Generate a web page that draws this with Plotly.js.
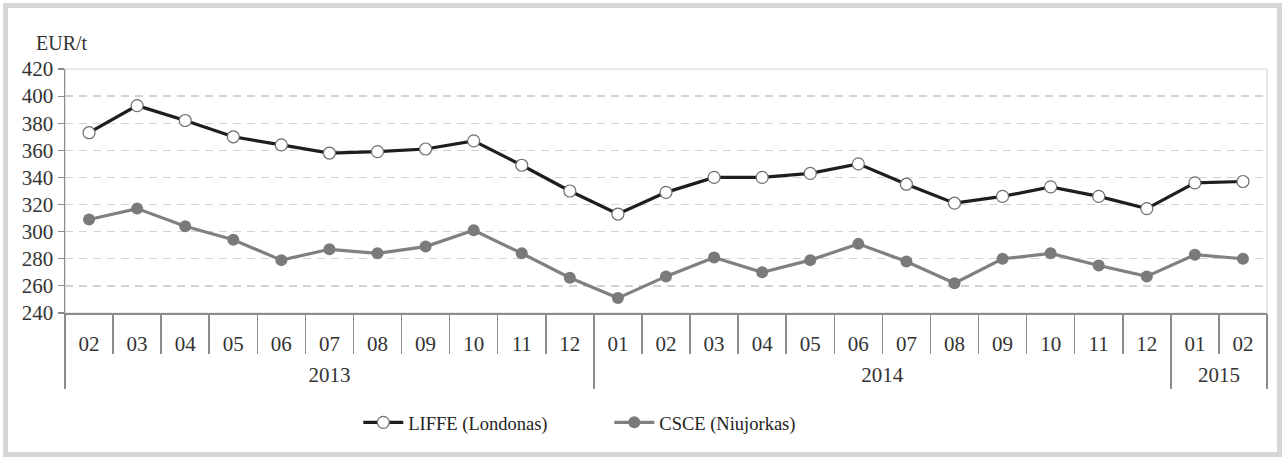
<!DOCTYPE html>
<html>
<head>
<meta charset="utf-8">
<script src="https://cdn.plot.ly/plotly-3.0.1.min.js"></script>
<style>
  body { margin: 0; background: #fff; }
  #wrap { position: relative; width: 1285px; height: 457px; }
  #plot { position: absolute; left: 0; top: 0; width: 1285px; height: 457px; }
  #frame { position: absolute; left: 3px; top: 3px; width: 1279px; height: 454px;
           border: 5px solid #d6d6d6; box-sizing: border-box; pointer-events: none; }
</style>
</head>
<body>
<div id="wrap">
  <div id="plot"></div>
  <div id="frame"></div>
</div>
<script>
// periods: year + month
var years = ['2013','2013','2013','2013','2013','2013','2013','2013','2013','2013','2013',
             '2014','2014','2014','2014','2014','2014','2014','2014','2014','2014','2014','2014',
             '2015','2015'];
var months = ['02','03','04','05','06','07','08','09','10','11','12',
              '01','02','03','04','05','06','07','08','09','10','11','12',
              '01','02'];
var yearLabels = ['2013', '2014', '2015'];

// EUR/t
var liffe = [373, 393, 382, 370, 364, 358, 359, 361, 367, 349, 330,
             313, 329, 340, 340, 343, 350, 335, 321, 326, 333, 326, 317,
             336, 337];
var csce = [309, 317, 304, 294, 279, 287, 284, 289, 301, 284, 266,
            251, 267, 281, 270, 279, 291, 278, 262, 280, 284, 275, 267,
            283, 280];

var serif = '"Liberation Serif", serif';

// unique category keys, shown with the month text only
var keys = months.map(function (m, i) { return years[i] + '-' + m; });
var n = keys.length;

// boundaries between months, and between years
var monthBounds = [];
for (var i = 0; i <= n; i++) monthBounds.push(i - 0.5);
var yearBounds = [-0.5];
var yearCenters = [];
var start = 0;
for (var i = 1; i <= n; i++) {
    if (i == n || years[i] !== years[i - 1]) {
        yearBounds.push(i - 0.5);
        yearCenters.push((start + i - 1) / 2);
        start = i;
    }
}

var trace1 = {
    x: keys,
    y: liffe,
    type: 'scatter',
    mode: 'lines+markers',
    name: 'LIFFE (Londonas)',
    line: { color: '#1e1e1e', width: 3.2 },
    marker: { symbol: 'circle', size: 12, color: '#ffffff', line: { color: '#6e6e6e', width: 1.2 } }
};
var trace2 = {
    x: keys,
    y: csce,
    type: 'scatter',
    mode: 'lines+markers',
    name: 'CSCE (Niujorkas)',
    line: { color: '#808080', width: 3.2 },
    marker: { symbol: 'circle', size: 12, color: '#7a7a7a' }
};
// empty traces so the helper axes get drawn
var helpers = ['x2', 'x3', 'x4'].map(function (ax) {
    return { x: [], y: [], xaxis: ax, yaxis: 'y', type: 'scatter', showlegend: false, hoverinfo: 'skip' };
});

var range = [-0.5, n - 0.5];
var helperAxis = function (vals, len, text, standoff) {
    return {
        type: 'linear',
        overlaying: 'x',
        anchor: 'y',
        side: 'bottom',
        range: range,
        tickmode: 'array',
        tickvals: vals,
        ticktext: text || [],
        showticklabels: !!text,
        ticks: len ? 'outside' : '',
        ticklen: len || 0,
        tickwidth: 1.5,
        tickcolor: '#8c8c8c',
        ticklabelstandoff: standoff || 0,
        tickfont: { family: serif, size: 21, color: '#333333' },
        showline: false,
        showgrid: false,
        zeroline: false
    };
};

var layout = {
    width: 1285,
    height: 457,
    margin: { l: 65, r: 18, t: 69, b: 144 },
    paper_bgcolor: '#ffffff',
    plot_bgcolor: '#ffffff',
    font: { family: serif, size: 19, color: '#333333' },
    showlegend: true,
    legend: {
        orientation: 'h',
        x: 0.244, xanchor: 'left',
        y: -0.45, yanchor: 'middle',
        font: { family: serif, size: 18.5, color: '#222222' },
        entrywidth: 196,
        itemwidth: 40
    },
    xaxis: {
        type: 'category',
        range: range,
        tickmode: 'array',
        tickvals: keys,
        ticktext: months,
        ticks: '',
        ticklabelstandoff: 11,
        showline: true,
        linecolor: '#8c8c8c',
        linewidth: 1.5,
        showgrid: false,
        tickfont: { family: serif, size: 21, color: '#333333' }
    },
    xaxis2: helperAxis(monthBounds, 40),
    xaxis3: helperAxis(yearBounds, 75),
    xaxis4: helperAxis(yearCenters, 0, yearLabels, 47),
    yaxis: {
        range: [240, 420],
        dtick: 20,
        ticks: 'outside',
        ticklen: 6,
        tickwidth: 1.2,
        tickcolor: '#8c8c8c',
        showline: true,
        linecolor: '#8c8c8c',
        linewidth: 1.5,
        gridcolor: '#d3d3d3',
        griddash: '8px,6px',
        gridwidth: 1.3,
        zeroline: false,
        tickfont: { family: serif, size: 21, color: '#333333' }
    },
    shapes: [
        { type: 'rect', xref: 'paper', yref: 'paper', x0: 0, x1: 1, y0: 0, y1: 1,
          line: { color: '#d6d6d6', width: 1.2 }, layer: 'below' }
    ],
    annotations: [
        { text: 'EUR/t', xref: 'paper', yref: 'paper', x: -0.026, y: 1.105,
          xanchor: 'left', yanchor: 'middle', showarrow: false,
          font: { family: serif, size: 20, color: '#333333' } }
    ]
};

Plotly.newPlot('plot', [trace1, trace2].concat(helpers), layout, { displayModeBar: false, staticPlot: true });
</script>
</body>
</html>
